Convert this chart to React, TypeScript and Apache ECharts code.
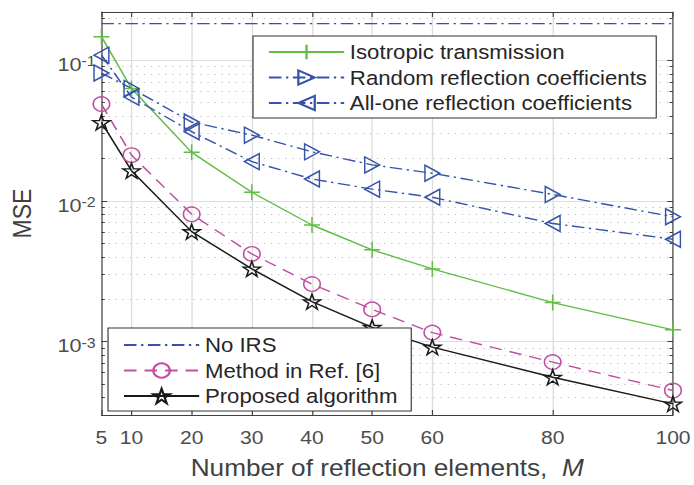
import React, { useEffect, useRef } from 'react';
import * as echarts from 'echarts';

// ---- data ----
const M_VALUES = [5, 10, 20, 30, 40, 50, 60, 80, 100];
const X_TICKS = [5, 10, 20, 30, 40, 50, 60, 80, 100];
const Y_MAJOR_TICKS = [0.001, 0.01, 0.1];
const Y_MINOR_TICKS = [
  0.0004, 0.0005, 0.0006, 0.0007, 0.0008, 0.0009,
  0.002, 0.003, 0.004, 0.005, 0.006, 0.007, 0.008, 0.009,
  0.02, 0.03, 0.04, 0.05, 0.06, 0.07, 0.08, 0.09,
  0.2,
];
const Y_MIN = 0.0003;
const Y_MAX = 0.22;

const NO_IRS = [0.182, 0.182, 0.182, 0.182, 0.182, 0.182, 0.182, 0.182, 0.182];
const ISOTROPIC = [0.147, 0.0629, 0.0221, 0.0115, 0.00673, 0.00448, 0.00328, 0.00189, 0.00121];
const RANDOM_COEF = [0.081, 0.063, 0.0363, 0.0293, 0.0223, 0.018, 0.0157, 0.0111, 0.0077];
const ALL_ONE_COEF = [0.1085, 0.0546, 0.031, 0.019, 0.0143, 0.0121, 0.0106, 0.0069, 0.00533];
const REF6 = [0.0487, 0.0211, 0.00802, 0.00419, 0.00256, 0.00169, 0.001156, 0.000713, 0.000448];
const PROPOSED = [0.0361, 0.01637, 0.00604, 0.00328, 0.00192, 0.00126, 0.000912, 0.000557, 0.00036];

const NAMES = {
  iso: 'Isotropic transmission',
  rnd: 'Random reflection coefficients',
  one: 'All-one reflection coefficients',
  noirs: 'No IRS',
  ref6: 'Method in Ref. [6]',
  prop: 'Proposed algorithm',
};

// ---- style ----
const FONT = '"Liberation Sans", Arial, Helvetica, sans-serif';
const BASE_W = 609;
const SCALE_X = 694 / BASE_W;
const GREEN = '#62bd45';
const BLUE = '#3553a8';
const MAGENTA = '#c04fa0';
const BLACK = '#1a1a1a';
const AXIS = '#404040';
const LW = 1.4;
const DASHDOT = [11, 4, 2, 4];
const DASHED = [11, 7];

const PLUS = 'path://M50,0L50,100M0,50L100,50';
const TRI_RIGHT = 'path://M0,0L100,50L0,100Z';
const TRI_LEFT = 'path://M100,0L0,50L100,100Z';
const STAR =
  'path://M50,0L61.2,34.5L97.6,34.5L68.2,55.9L79.4,90.5L50,69.1L20.6,90.5L31.8,55.9L2.4,34.5L38.8,34.5Z';

export default function App() {
  const ref = useRef<HTMLDivElement>(null);

  useEffect(() => {
    const chart = echarts.init(ref.current as HTMLDivElement, null, { renderer: 'svg' });
    const pairs = (ys: number[]) => M_VALUES.map((m, i) => [m, ys[i]]);

    const yLabelFormatter = (v: number) => {
      const e = Math.round(Math.log10(v));
      return `{b|10}{s|${e}}`;
    };

    const hollow = (c: string) => ({ color: 'none', borderColor: c, borderWidth: LW });

    const legendCommon = {
      orient: 'vertical',
      itemWidth: 66,
      itemHeight: 18,
      itemGap: 5.5,
      backgroundColor: '#ffffff',
      borderColor: '#333333',
      borderWidth: 1,
      borderRadius: 0,
      selectedMode: false,
      z: 10,
      textStyle: { fontSize: 19.5, color: '#262626', fontFamily: FONT, lineHeight: 20 },
    };

    chart.setOption({
      animation: false,
      textStyle: { fontFamily: FONT },
      grid: { left: 88.6, right: 18.4, top: 12, bottom: 70 },
      xAxis: [
        {
          type: 'value',
          min: 5,
          max: 100,
          position: 'bottom',
          name: 'Number of reflection elements,  {i|M}',
          nameLocation: 'middle',
          nameGap: 42,
          nameTextStyle: {
            fontSize: 23,
            color: AXIS,
            fontFamily: FONT,
            rich: { i: { fontSize: 23, color: AXIS, fontFamily: FONT, fontStyle: 'italic' } },
          },
          axisLine: { show: true, lineStyle: { color: AXIS, width: 1 } },
          axisTick: { show: true, inside: true, length: 5, customValues: X_TICKS, lineStyle: { color: AXIS } },
          axisLabel: { customValues: X_TICKS, margin: 13, fontSize: 18.5, color: '#4d4d4d', fontFamily: FONT },
          splitLine: { show: true, lineStyle: { color: '#dedede', width: 1.2 } },
        },
        {
          type: 'value',
          min: 5,
          max: 100,
          position: 'top',
          axisLine: { show: true, lineStyle: { color: AXIS, width: 1 } },
          axisTick: { show: true, inside: true, length: 5, customValues: X_TICKS, lineStyle: { color: AXIS } },
          axisLabel: { show: false },
          splitLine: { show: false },
        },
      ],
      yAxis: [
        {
          type: 'log',
          min: Y_MIN,
          max: Y_MAX,
          position: 'left',
          name: 'MSE',
          nameLocation: 'middle',
          nameGap: 58,
          nameTextStyle: { fontSize: 23, color: AXIS, fontFamily: FONT },
          axisLine: { show: true, lineStyle: { color: AXIS, width: 1 } },
          axisTick: { show: true, inside: true, length: 5, customValues: Y_MAJOR_TICKS, lineStyle: { color: AXIS } },
          axisLabel: {
            customValues: Y_MAJOR_TICKS,
            margin: 5,
            formatter: yLabelFormatter,
            padding: [8, 0, 0, 0],
            rich: {
              b: { fontSize: 19, color: '#4d4d4d', fontFamily: FONT, lineHeight: 20, verticalAlign: 'bottom' },
              s: { fontSize: 14, color: '#4d4d4d', fontFamily: FONT, lineHeight: 20, verticalAlign: 'top' },
            },
          },
          splitLine: { show: true, lineStyle: { color: '#dedede', width: 1.2 } },
        },
        {
          type: 'log',
          min: Y_MIN,
          max: Y_MAX,
          position: 'left',
          axisLine: { show: false },
          axisTick: { show: true, inside: true, length: 3, customValues: Y_MINOR_TICKS, lineStyle: { color: AXIS } },
          axisLabel: { show: false },
          splitLine: { show: true, lineStyle: { color: '#c4c4c4', width: 1.2, type: [1.2, 5] } },
        },
        {
          type: 'log',
          min: Y_MIN,
          max: Y_MAX,
          position: 'right',
          axisLine: { show: true, lineStyle: { color: AXIS, width: 1 } },
          axisTick: { show: true, inside: true, length: 5, customValues: Y_MAJOR_TICKS, lineStyle: { color: AXIS } },
          axisLabel: { show: false },
          splitLine: { show: false },
        },
        {
          type: 'log',
          min: Y_MIN,
          max: Y_MAX,
          position: 'right',
          axisLine: { show: false },
          axisTick: { show: true, inside: true, length: 3, customValues: Y_MINOR_TICKS, lineStyle: { color: AXIS } },
          axisLabel: { show: false },
          splitLine: { show: false },
        },
      ],
      legend: [
        {
          ...legendCommon,
          data: [NAMES.iso, NAMES.rnd, NAMES.one],
          left: 222,
          top: 36,
          padding: [6, 8, 5, 13],
        },
        {
          ...legendCommon,
          data: [NAMES.noirs, NAMES.ref6, NAMES.prop],
          left: 94.8,
          top: 328,
          padding: [7, 12, 5, 13],
        },
      ],
      series: [
        {
          name: NAMES.noirs,
          type: 'line',
          data: pairs(NO_IRS),
          showSymbol: false,
          symbol: 'circle',
          symbolSize: 0,
          lineStyle: { color: BLUE, width: LW, type: DASHDOT },
          itemStyle: { color: 'none', borderColor: 'none', borderWidth: 0 },
        },
        {
          name: NAMES.iso,
          type: 'line',
          data: pairs(ISOTROPIC),
          symbol: PLUS,
          symbolSize: [14, 16],
          lineStyle: { color: GREEN, width: LW },
          itemStyle: { color: GREEN, borderColor: GREEN, borderWidth: LW },
        },
        {
          name: NAMES.rnd,
          type: 'line',
          data: pairs(RANDOM_COEF),
          symbol: TRI_RIGHT,
          symbolSize: [13, 16],
          lineStyle: { color: BLUE, width: LW, type: DASHDOT },
          itemStyle: hollow(BLUE),
        },
        {
          name: NAMES.one,
          type: 'line',
          data: pairs(ALL_ONE_COEF),
          symbol: TRI_LEFT,
          symbolSize: [13, 16],
          lineStyle: { color: BLUE, width: LW, type: DASHDOT },
          itemStyle: hollow(BLUE),
        },
        {
          name: NAMES.ref6,
          type: 'line',
          data: pairs(REF6),
          symbol: 'circle',
          symbolSize: 14.5,
          lineStyle: { color: MAGENTA, width: LW, type: DASHED },
          itemStyle: hollow(MAGENTA),
        },
        {
          name: NAMES.prop,
          type: 'line',
          data: pairs(PROPOSED),
          symbol: STAR,
          symbolSize: 15,
          lineStyle: { color: BLACK, width: LW },
          itemStyle: hollow(BLACK),
        },
      ],
    });

    return () => chart.dispose();
  }, []);

  return (
    <div
      ref={ref}
      style={{
        position: 'fixed',
        left: 0,
        top: 0,
        width: BASE_W,
        height: 485,
        transform: `scaleX(${SCALE_X})`,
        transformOrigin: '0 0',
        background: '#ffffff',
      }}
    />
  );
}
